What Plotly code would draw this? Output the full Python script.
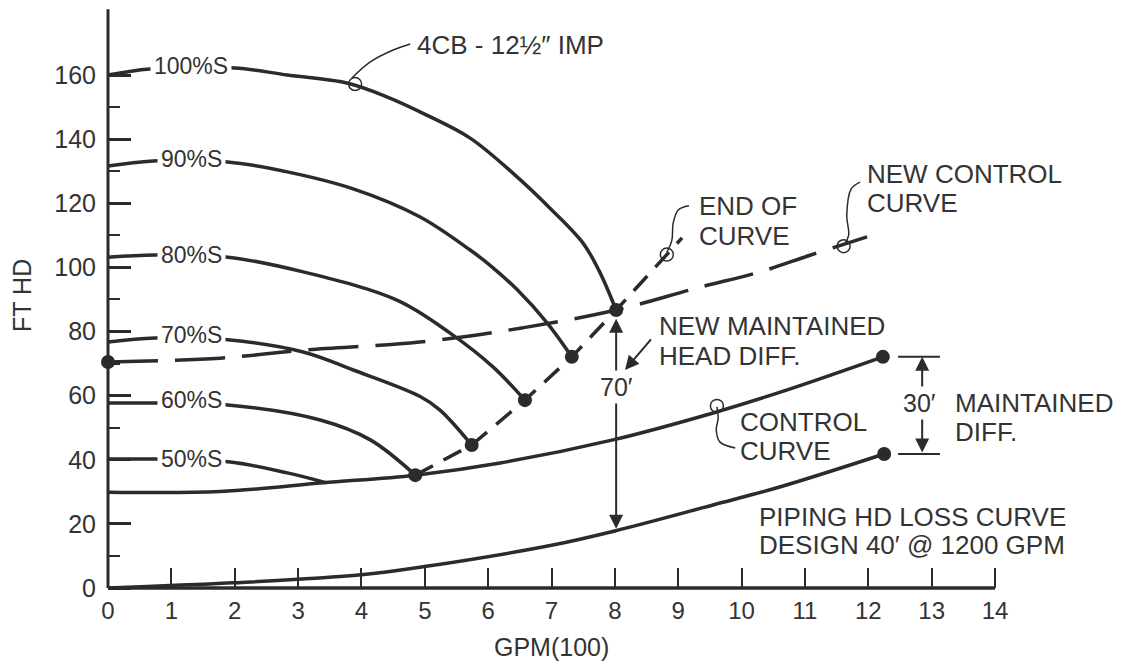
import plotly.graph_objects as go

# ---------------- DATA ----------------
gpm_100 = [0, 0.66, 2.0, 2.83, 3.77, 4.40, 5.03, 5.71, 6.39, 7.0, 7.5, 7.75, 8.02]
hd_100 = [160.0, 161.9, 162.2, 160.0, 157.5, 153.2, 147.5, 140.4, 129.4, 118.0, 107.5, 99.0, 86.7]

gpm_90 = [0, 0.71, 1.89, 2.83, 3.87, 4.92, 5.71, 6.04, 6.46, 6.93, 7.32]
hd_90 = [131.6, 133.2, 132.9, 129.8, 124.5, 115.8, 105.5, 100.5, 93.0, 82.7, 72.1]

gpm_80 = [0, 0.74, 1.89, 3.08, 4.56, 5.40, 6.08, 6.58]
hd_80 = [103.2, 103.9, 103.2, 98.6, 89.8, 79.5, 68.9, 58.6]

gpm_70 = [0, 0.74, 1.89, 3.08, 3.87, 4.92, 5.24, 5.74]
hd_70 = [76.7, 78.0, 77.4, 73.6, 68.0, 59.8, 55.5, 44.6]

gpm_60 = [0, 0.74, 1.89, 3.35, 4.14, 4.85]
hd_60 = [57.7, 57.7, 57.1, 52.4, 46.2, 35.2]

gpm_50 = [0, 0.74, 1.93, 2.83, 3.45]
hd_50 = [40.2, 40.2, 39.3, 35.9, 32.8]

speed_labels = ["100%S", "90%S", "80%S", "70%S", "60%S", "50%S"]
speed_label_hd = [162.8, 133.7, 104.0, 78.8, 58.5, 40.1]

gpm_control = [0, 1.77, 3.39, 4.85, 6.19, 7.97, 9.55, 10.72, 12.23]
hd_control = [29.9, 30.1, 32.8, 35.2, 39.0, 46.2, 54.6, 61.8, 72.1]

gpm_piping = [0, 1.97, 4.0, 4.97, 7.02, 8.0, 9.55, 10.6, 12.25]
hd_piping = [0, 1.6, 4.1, 6.6, 13.4, 17.8, 25.9, 31.5, 41.8]

gpm_new_control = [0, 1.77, 3.08, 4.92, 6.53, 8.02, 9.30, 10.29, 11.08, 11.98]
hd_new_control = [70.5, 71.7, 74.2, 76.7, 81.1, 86.7, 93.6, 98.6, 103.8, 109.5]

gpm_end_curve = [4.85, 5.74, 6.58, 7.32, 8.02, 9.06]
hd_end_curve = [35.2, 44.6, 58.6, 72.1, 86.7, 109.2]

gpm_dots = [0, 4.85, 5.74, 6.58, 7.32, 8.02, 12.23, 12.25]
hd_dots = [70.5, 35.2, 44.6, 58.6, 72.1, 86.7, 72.1, 41.8]

x_ticks = list(range(0, 15))
y_ticks = list(range(0, 161, 20))
y_minor_ticks = list(range(10, 151, 20))

# ---------------- STYLE ----------------
INK = "#2b2b2b"
TXT = "#333333"
FONT = "Liberation Sans, Arial, Helvetica, sans-serif"

# page is offset by the 8px body margin: x=0 at figure px 100, y=0 at figure px 580
PX_X = 63.36
PX_Y = 3.206
X_RANGE = [-100 / PX_X, (1125 - 100) / PX_X]
Y_RANGE = [-(667 - 580) / PX_Y, 580 / PX_Y]

fig = go.Figure()

def curve(x, y, width=3.5, dash=None, shape="spline"):
    line = dict(color=INK, width=width, dash=dash, shape=shape)
    if shape == "spline":
        line["smoothing"] = 1.0
    fig.add_trace(go.Scatter(x=x, y=y, mode="lines", hoverinfo="skip", line=line))

for gx, gy in [(gpm_100, hd_100), (gpm_90, hd_90), (gpm_80, hd_80),
               (gpm_70, hd_70), (gpm_60, hd_60), (gpm_50, hd_50)]:
    curve(gx, gy)

curve(gpm_control, hd_control)
curve(gpm_piping, hd_piping)
curve(gpm_new_control, hd_new_control, dash="50px,17px")
curve(gpm_end_curve, hd_end_curve, dash="20px,12px", shape="linear")

fig.add_trace(go.Scatter(
    x=gpm_dots, y=hd_dots, mode="markers", hoverinfo="skip",
    marker=dict(color=INK, size=14), cliponaxis=False,
))

# leader lines (hand-drawn callouts)
leaders = [
    ([4.77, 4.50, 4.14, 3.85], [169.7, 167.8, 164.1, 159.1]),
    ([9.17, 9.00, 8.92, 8.90, 8.82], [119.2, 117.9, 113.8, 108.5, 104.7]),
    ([11.87, 11.73, 11.66, 11.69, 11.63], [126.6, 124.5, 116.3, 110.1, 107.4]),
    ([9.61, 9.63, 9.60, 9.66, 9.90], [56.5, 53.0, 49.3, 45.5, 43.7]),
]
for lx, ly in leaders:
    fig.add_trace(go.Scatter(x=lx, y=ly, mode="lines", hoverinfo="skip",
                             line=dict(color=INK, width=1.5, shape="spline")))
fig.add_trace(go.Scatter(
    x=[3.90, 8.82, 11.61, 9.61], y=[157.2, 104.0, 106.6, 56.8], mode="markers", hoverinfo="skip",
    marker=dict(symbol="circle-open", size=13, color=INK, line=dict(width=1.5, color=INK)),
))

# axis lines
fig.add_shape(type="line", x0=0, x1=0, y0=0, y1=180.5, xref="x", yref="y",
              line=dict(color=INK, width=3))
fig.add_shape(type="line", x0=0, x1=14, y0=0, y1=0, xref="x", yref="y",
              line=dict(color=INK, width=3.5))
# 30' caps
for yc in [72.1, 41.8]:
    fig.add_shape(type="line", x0=12.47, x1=13.13, y0=yc, y1=yc, xref="x", yref="y",
                  line=dict(color=INK, width=2))

ann = []
# arrows
ann.append(dict(x=8.02, y=84.0, ax=8.02, ay=18.0, xref="x", yref="y", axref="x", ayref="y",
                text="", showarrow=True, arrowside="end+start", arrowhead=2, startarrowhead=2,
                arrowsize=1.4, startarrowsize=1.4, arrowwidth=2, arrowcolor=INK,
                standoff=0, startstandoff=0))
ann.append(dict(x=12.85, y=72.1, ax=12.85, ay=41.8, xref="x", yref="y", axref="x", ayref="y",
                text="", showarrow=True, arrowside="end+start", arrowhead=2, startarrowhead=2,
                arrowsize=1.4, startarrowsize=1.4, arrowwidth=2, arrowcolor=INK,
                standoff=0, startstandoff=0))
ann.append(dict(x=8.16, y=68.0, ax=8.59, ay=78.0, xref="x", yref="y", axref="x", ayref="y",
                text="", showarrow=True, arrowhead=2, arrowsize=1.4, arrowwidth=2,
                arrowcolor=INK, standoff=0))

# speed labels
for lab, yy in zip(speed_labels, speed_label_hd):
    ann.append(dict(x=1.31, y=yy, xref="x", yref="y", text=lab, showarrow=False,
                    font=dict(size=23, color=TXT, family=FONT), bgcolor="white", borderpad=3,
                    xanchor="center", yanchor="middle"))

def txt(x, y, s, size=26, anchor="left", bg=None):
    d = dict(x=x, y=y, xref="x", yref="y", text=s, showarrow=False,
             font=dict(size=size, color=TXT, family=FONT), xanchor=anchor, yanchor="middle")
    if bg:
        d.update(bgcolor=bg, borderpad=2)
    ann.append(d)

txt(4.85, 169.4, "4CB - 12½″ IMP")
txt(11.95, 129.1, "NEW CONTROL")
txt(11.95, 120.1, "CURVE")
txt(9.30, 119.2, "END OF")
txt(9.30, 109.8, "CURVE")
txt(8.66, 81.7, "NEW MAINTAINED")
txt(8.66, 72.4, "HEAD DIFF.")
txt(8.02, 62.7, "70′", size=25, anchor="center", bg="white")
txt(9.94, 51.8, "CONTROL")
txt(9.94, 42.7, "CURVE")
txt(12.80, 57.7, "30′", size=25, anchor="center", bg="white")
txt(13.34, 57.7, "MAINTAINED")
txt(13.34, 48.7, "DIFF.")
txt(10.24, 22.1, "PIPING HD LOSS CURVE")
txt(10.24, 13.4, "DESIGN 40′ @ 1200 GPM")
# axis titles
txt(7.0, -18.4, "GPM(100)", size=25, anchor="center")
ann.append(dict(x=-1.357, y=91.1, xref="x", yref="y", text="FT HD", showarrow=False,
                textangle=-90, font=dict(size=25, color=TXT, family=FONT),
                xanchor="center", yanchor="middle"))

fig.update_layout(
    width=1125, height=667,
    margin=dict(l=0, r=0, t=0, b=0),
    paper_bgcolor="white", plot_bgcolor="white",
    showlegend=False,
    font=dict(family=FONT, size=25, color=TXT),
    annotations=ann,
    xaxis=dict(range=X_RANGE, anchor="free",
               position=(0 - Y_RANGE[0]) / (Y_RANGE[1] - Y_RANGE[0]),
               tickmode="array", tickvals=x_ticks, ticktext=[str(v) for v in x_ticks],
               ticks="inside", ticklen=20, tickwidth=2, tickcolor=INK,
               ticklabelstandoff=6,
               tickfont=dict(size=24, color=TXT, family=FONT),
               showline=False, showgrid=False, zeroline=False, automargin=False),
    yaxis=dict(range=Y_RANGE, anchor="free",
               position=(0 - X_RANGE[0]) / (X_RANGE[1] - X_RANGE[0]),
               tickmode="array", tickvals=y_ticks, ticktext=[str(v) for v in y_ticks],
               ticks="inside", ticklen=22, tickwidth=2.5, tickcolor=INK,
               ticklabelstandoff=12,
               minor=dict(tickmode="array", tickvals=y_minor_ticks, ticks="inside",
                          ticklen=11, tickwidth=2, tickcolor=INK, showgrid=False),
               tickfont=dict(size=25, color=TXT, family=FONT),
               showline=False, showgrid=False, zeroline=False, automargin=False),
)

fig.write_html("out.html")
